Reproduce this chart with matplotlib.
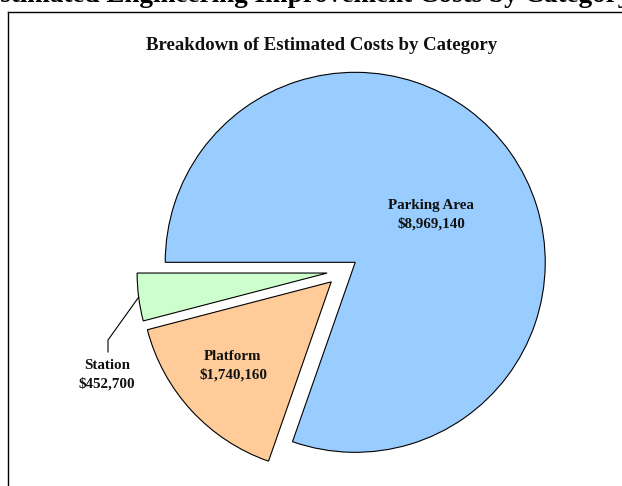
import numpy as np
import matplotlib.pyplot as plt
from matplotlib.lines import Line2D

# Custos estimados por categoria
categorias = ['Parking Area', 'Platform', 'Station']
custos = [8969140, 1740160, 452700]
cores = ['#99CCFF', '#FFCC99', '#CCFFCC']
explode = [15, 16, 16]

plt.rcParams['font.family'] = ['Liberation Serif', 'DejaVu Serif']

fig = plt.figure(figsize=(6.22, 4.86), dpi=100)
ax = fig.add_axes([0, 0, 1, 1])

wedges, _ = ax.pie(custos, explode=explode, colors=cores, startangle=180,
                   counterclock=False, radius=190, center=(343, 215),
                   wedgeprops=dict(edgecolor='black', linewidth=0.8))

ax.set_xlim(0, 622)
ax.set_ylim(0, 486)
ax.set_aspect('equal')
ax.axis('off')

def rotulo(nome, valor):
    return f'{nome}\n${valor:,.0f}'

# Rótulos dentro das fatias maiores
pos_rotulos = [(431, 271), (233, 120)]
for (x, y), nome, valor in zip(pos_rotulos, categorias[:2], custos[:2]):
    ax.text(x, y, rotulo(nome, valor), ha='center', va='center', fontsize=10.8,
            fontweight='bold', color='#111111', linespacing=1.45)

# Rótulo da estação com linha de chamada
w = wedges[2]
ang = np.deg2rad((w.theta1 + w.theta2) / 2)
px = w.center[0] + w.r * np.cos(ang)
py = w.center[1] + w.r * np.sin(ang)
ax.plot([px, 108, 108], [py, 146, 134], color='black', linewidth=0.8)
ax.text(107, 111, rotulo(categorias[2], custos[2]), ha='center', va='center',
        fontsize=10.8, fontweight='bold', color='#111111', linespacing=1.45)

ax.text(322, 440, 'Breakdown of Estimated Costs by Category', ha='center',
        va='center', fontsize=13.5, fontweight='bold', color='#111111')

# Moldura do gráfico
fig.add_artist(Line2D([8 / 622, 8 / 622], [0, 1 - 12 / 486], color='black', linewidth=1))
fig.add_artist(Line2D([8 / 622, 1], [1 - 12 / 486, 1 - 12 / 486], color='black', linewidth=1))

fig.text(307 / 622, 1 - 2.5 / 486, 'Estimated Engineering Improvement Costs by Category',
         ha='center', va='baseline', fontsize=19.5, fontweight='bold', color='black')

fig.savefig('out.png', dpi=100)
